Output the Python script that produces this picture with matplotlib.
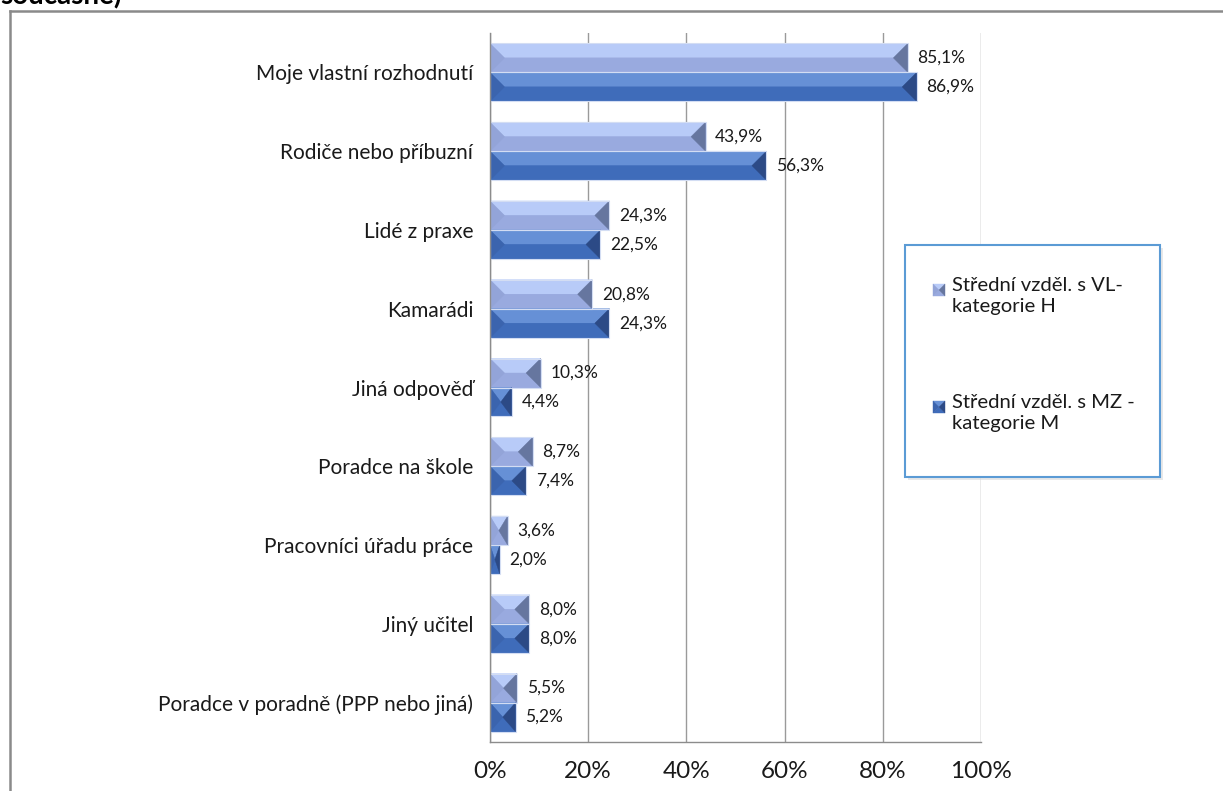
import matplotlib
matplotlib.use("Agg")
import matplotlib.pyplot as plt
from matplotlib.patches import Polygon, Rectangle
from matplotlib.lines import Line2D

plt.rcParams["font.family"] = ["Lato", "DejaVu Sans"]

# data (top to bottom)
categories = [
    "Moje vlastní rozhodnutí",
    "Rodiče nebo příbuzní",
    "Lidé z praxe",
    "Kamarádi",
    "Jiná odpověď",
    "Poradce na škole",
    "Pracovníci úřadu práce",
    "Jiný učitel",
    "Poradce v poradně (PPP nebo jiná)",
]
values_h = [85.1, 43.9, 24.3, 20.8, 10.3, 8.7, 3.6, 8.0, 5.5]
values_m = [86.9, 56.3, 22.5, 24.3, 4.4, 7.4, 2.0, 8.0, 5.2]
series_labels = ["Střední vzděl. s VL-\nkategorie H", "Střední vzděl. s MZ -\nkategorie M"]
x_ticks = [0, 20, 40, 60, 80, 100]

# bevel colours: top, bottom, left, right
colors_h = ["#b8cbf8", "#99aadf", "#93a4d8", "#66769f"]
colors_m = ["#6690d6", "#3f6cba", "#3b64ae", "#2c4a86"]

W, H = 1223, 791
fig = plt.figure(figsize=(W / 100, H / 100), dpi=100)
ax = fig.add_axes([490 / W, 49 / H, 491 / W, 709 / H])

n = len(categories)
ypos = [n - 1 - i for i in range(n)]
bh = 0.368

bars_h = ax.barh([y + bh / 2 for y in ypos], values_h, height=bh, color=colors_h[1], zorder=2)
bars_m = ax.barh([y - bh / 2 for y in ypos], values_m, height=bh, color=colors_m[1], zorder=2)

ax.set_xlim(0, 100)
ax.set_ylim(-0.5, n - 0.5)

px_x = ax.bbox.width / 100.0
px_y = ax.bbox.height / n


def bevel(ax, rect, cols):
    x0, y0 = rect.get_x(), rect.get_y()
    w, h = rect.get_width(), rect.get_height()
    ym = y0 + h / 2
    d = min(h * px_y / 2 / px_x, w / 2)
    x1 = x0 + w
    top = [(x0, y0 + h), (x1, y0 + h), (x1 - d, ym), (x0 + d, ym)]
    bot = [(x0, y0), (x1, y0), (x1 - d, ym), (x0 + d, ym)]
    left = [(x0, y0 + h), (x0 + d, ym), (x0, y0)]
    right = [(x1, y0 + h), (x1 - d, ym), (x1, y0)]
    for pts, c in zip([top, bot, left, right], cols):
        ax.add_patch(Polygon(pts, closed=True, facecolor=c, edgecolor=c, lw=0.3, zorder=3))
    ax.add_patch(Rectangle((x0, y0), w, h, fill=False, edgecolor="#d3ddf3", lw=0.8, zorder=4))


for bars, vals, cols in [(bars_h, values_h, colors_h), (bars_m, values_m, colors_m)]:
    for rect, v in zip(bars, vals):
        bevel(ax, rect, cols)
        ax.annotate(f"{v:.1f}".replace(".", ",") + "%",
                    (v, rect.get_y() + rect.get_height() / 2),
                    xytext=(7, 0), textcoords="offset points",
                    va="center", ha="left", fontsize=12.5, color="#1a1a1a")

ax.set_yticks(ypos)
ax.set_yticklabels(categories, fontsize=15, color="#1a1a1a")
ax.set_xticks(x_ticks)
ax.set_xticklabels([f"{t}%" for t in x_ticks], fontsize=17.5, color="#1a1a1a")
ax.tick_params(axis="both", length=0)
ax.tick_params(axis="y", pad=12)
ax.tick_params(axis="x", pad=14)

ax.grid(axis="x", color="#9a9a9a", lw=1, zorder=1)
ax.grid(axis="y", visible=False)
for s in ["top", "right"]:
    ax.spines[s].set_visible(False)
for s in ["left", "bottom"]:
    ax.spines[s].set_color("#8c8c8c")
    ax.spines[s].set_linewidth(1)
    ax.spines[s].set_zorder(5)

# outer frame (chart border, cut off)
fig.add_artist(Line2D([10 / W, 10 / W], [0, 1 - 11 / H], color="#8a8a8a", lw=1.8, transform=fig.transFigure))
fig.add_artist(Line2D([10 / W, 1], [1 - 11 / H, 1 - 11 / H], color="#8a8a8a", lw=1.8, transform=fig.transFigure))

# cut-off title fragment
fig.text(0 / W, 1 - 4 / H, "současně)", fontsize=20, fontweight="bold", va="baseline", ha="left")

# legend box
lx0, ly0, lx1, ly1 = 905, 245, 1160, 477
fig.add_artist(Rectangle((lx0 / W + 3 / W, 1 - ly1 / H - 3 / H), (lx1 - lx0) / W, (ly1 - ly0) / H,
                         transform=fig.transFigure, facecolor="#d9d9d9", edgecolor="none", alpha=0.6))
fig.add_artist(Rectangle((lx0 / W, 1 - ly1 / H), (lx1 - lx0) / W, (ly1 - ly0) / H,
                         transform=fig.transFigure, facecolor="white", edgecolor="#5b9bd5", lw=1.5))


def legend_icon(cx, cy, cols, s=12):
    x0, x1 = (cx - s / 2) / W, (cx + s / 2) / W
    yt, yb = 1 - (cy - s / 2) / H, 1 - (cy + s / 2) / H
    xm, ym = cx / W, 1 - cy / H
    faces = [
        [(x0, yt), (x1, yt), (xm, ym)],
        [(x0, yb), (x1, yb), (xm, ym)],
        [(x0, yt), (xm, ym), (x0, yb)],
        [(x1, yt), (xm, ym), (x1, yb)],
    ]
    for pts, c in zip(faces, cols):
        fig.add_artist(Polygon(pts, closed=True, facecolor=c, edgecolor=c, lw=0.3,
                               transform=fig.transFigure))


for (label, cols, cy) in [(series_labels[0], colors_h, 290), (series_labels[1], colors_m, 407)]:
    legend_icon(939, cy, cols)
    fig.text(952 / W, 1 - (cy - 13) / H, label, fontsize=14.6, va="top", ha="left",
             linespacing=1.3, color="#1a1a1a")

fig.savefig("out.png", dpi=100)
